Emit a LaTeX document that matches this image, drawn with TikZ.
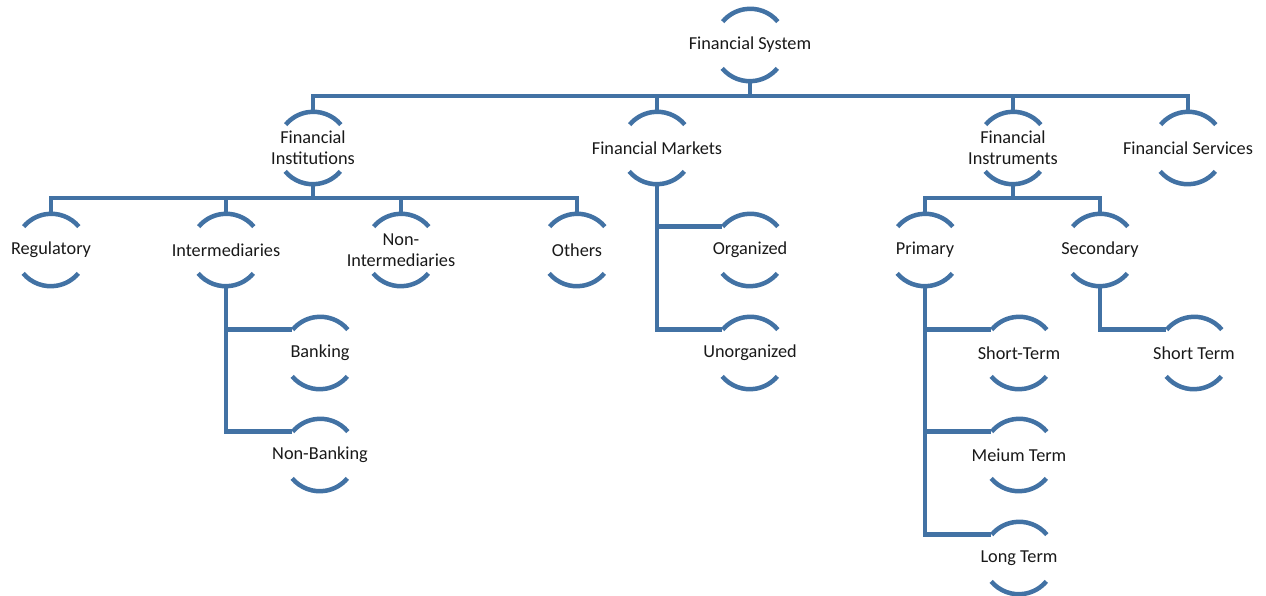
\documentclass[tikz,border=0pt]{standalone}
\usepackage{fontspec}
\setmainfont{Carlito}
\usetikzlibrary{calc}
\definecolor{treeblue}{RGB}{66,114,164}
\tikzset{
  unit/.style={circle, minimum size=1.44cm, inner sep=0pt,
    label={[align=center, font=\fontsize{10.4pt}{12pt}\selectfont, text=black!90]center:#1}},
  link/.style={draw=treeblue, line width=0.09cm},
}

\begin{document}
\begin{tikzpicture}[x=0.02cm, y=0.02cm]
    \useasboundingbox (0,0) rectangle (1266,595);
    % Top level
    \node[unit={Financial System}] (fs) at (750,550) {};
    % Second level
    \node[unit={Financial\\Institutions}] (fi) at (313,447) {};
    \node[unit={Financial Markets}] (fm) at (657,447) {};
    \node[unit={Financial\\Instruments}] (fin) at (1013,447) {};
    \node[unit={Financial Services}] (fsv) at (1188,447) {};
    % Third level
    \node[unit={Regulatory}] (reg) at (51,345) {};
    \node[unit={Intermediaries}] (inter) at (226,345) {};
    \node[unit={Non-\\Intermediaries}] (nonint) at (401,345) {};
    \node[unit={Others}] (oth) at (577,345) {};
    \node[unit={Organized}] (org) at (750,345) {};
    \node[unit={Unorganized}] (unorg) at (750,242) {};
    \node[unit={Primary}] (prim) at (925,345) {};
    \node[unit={Secondary}] (sec) at (1100,345) {};
    % Lower levels
    \node[unit={Banking}] (bank) at (320,242) {};
    \node[unit={Non-Banking}] (nbank) at (320,140) {};
    \node[unit={Short-Term}] (st) at (1019,242) {};
    \node[unit={Meium Term}] (mt) at (1019,140) {};
    \node[unit={Long Term}] (lt) at (1019,37) {};
    \node[unit={Short Term}] (stt) at (1194,242) {};

    % Arcs round every node
    \foreach \n in {fs,fi,fm,fin,fsv,reg,inter,nonint,oth,org,unorg,prim,sec,bank,nbank,st,mt,lt,stt} {
        \draw[link] (\n.40) arc[start angle=40, end angle=140, radius=0.72cm]
                    (\n.220) arc[start angle=220, end angle=320, radius=0.72cm];
    }

    % Buses
    \coordinate (bus1) at (750,499);
    \coordinate (bus2) at (313,397);
    \coordinate (bus3) at (1013,397);
    \foreach \c in {fi,fm,fin,fsv} {
        \draw[link] (fs.south) -- (bus1) -| (\c.north);
    }
    \foreach \c in {reg,inter,nonint,oth} {
        \draw[link] (fi.south) -- (bus2) -| (\c.north);
    }
    \foreach \c in {prim,sec} {
        \draw[link] (fin.south) -- (bus3) -| (\c.north);
    }

    % Side branches
    \foreach \c in {org,unorg} {
        \draw[link] (fm.south) |- (\c.140);
    }
    \foreach \c in {bank,nbank} {
        \draw[link] (inter.south) |- (\c.140);
    }
    \foreach \c in {st,mt,lt} {
        \draw[link] (prim.south) |- (\c.140);
    }
    \draw[link] (sec.south) |- (stt.140);
\end{tikzpicture}
\end{document}
